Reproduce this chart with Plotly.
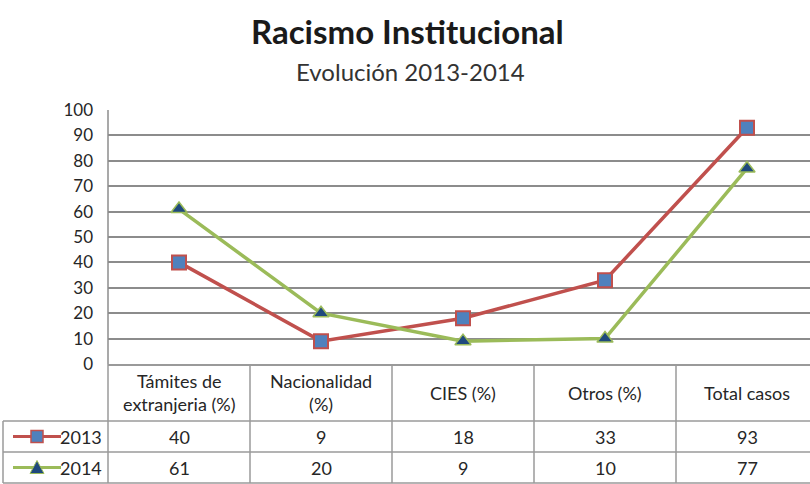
# Racismo Institucional - evolución 2013-2014
# Excel-style line chart with a data table under the x axis.

import plotly.graph_objects as go

# ---- Data ----
categories = ["Támites de<br>extranjeria (%)", "Nacionalidad<br>(%)", "CIES (%)",
              "Otros (%)", "Total casos"]
series_names = ["2013", "2014"]
values_2013 = [40, 9, 18, 33, 93]
values_2014 = [61, 20, 9, 10, 77]
y_ticks = [0, 10, 20, 30, 40, 50, 60, 70, 80, 90, 100]

# ---- Style ----
W, H = 810, 484
RED = "#C0504D"
GREEN = "#9BBB59"
BLUE = "#4F81BD"
NAVY = "#1F497D"
GRID = "#8c8c8c"
TABLE_LINE = "#9a9a9a"
TEXT = "#262626"
FONT = "Lato, Open Sans, sans-serif"

# pixel layout of the plot area / table
PLOT_L, PLOT_T, PLOT_B = 108, 110, 364
COL_W = 142
ROW_LINES = [421, 452, 483]
LEG_L = 3


def px(x):
    return x / W


def py(y):
    return 1 - y / H


def label(x, y, text, size, color=TEXT, xanchor="center"):
    return dict(x=px(x), y=py(y), xref="paper", yref="paper", text=text,
                xanchor=xanchor, yanchor="middle", showarrow=False,
                font=dict(size=size, color=color))


fig = go.Figure()

fig.add_trace(go.Scatter(
    x=list(range(len(categories))), y=values_2013, mode="lines+markers",
    name=series_names[0],
    line=dict(color=RED, width=3.5),
    marker=dict(symbol="square", size=14, color=BLUE, line=dict(color=RED, width=2)),
))
fig.add_trace(go.Scatter(
    x=list(range(len(categories))), y=values_2014, mode="lines+markers",
    name=series_names[1],
    line=dict(color=GREEN, width=3.5),
    marker=dict(symbol="triangle-up", size=14, color=NAVY, line=dict(color=GREEN, width=1.5)),
))

shapes = []
annotations = []

# table grid
for y in ROW_LINES:
    shapes.append(dict(type="line", xref="paper", yref="paper",
                       x0=px(LEG_L), x1=1, y0=py(y), y1=py(y),
                       line=dict(color=TABLE_LINE, width=1.5)))
shapes.append(dict(type="line", xref="paper", yref="paper",
                   x0=px(LEG_L), x1=px(LEG_L), y0=py(ROW_LINES[0]), y1=py(ROW_LINES[-1]),
                   line=dict(color=TABLE_LINE, width=1.5)))
for i in range(len(categories)):
    x = PLOT_L + COL_W * i
    shapes.append(dict(type="line", xref="paper", yref="paper",
                       x0=px(x), x1=px(x), y0=py(PLOT_B), y1=py(ROW_LINES[-1]),
                       line=dict(color=TABLE_LINE, width=1.5)))

# table header and values
for i, cat in enumerate(categories):
    cx = PLOT_L + COL_W * (i + 0.5)
    annotations.append(label(cx, (PLOT_B + ROW_LINES[0]) / 2, cat, 18))
    for r, vals in enumerate([values_2013, values_2014]):
        annotations.append(label(cx, (ROW_LINES[r] + ROW_LINES[r + 1]) / 2, str(vals[i]), 18))

# legend keys inside the table
for r, (name, lc, mc) in enumerate([(series_names[0], RED, BLUE), (series_names[1], GREEN, NAVY)]):
    cy = (ROW_LINES[r] + ROW_LINES[r + 1]) / 2
    shapes.append(dict(type="line", xref="paper", yref="paper",
                       x0=px(13), x1=px(61), y0=py(cy), y1=py(cy),
                       line=dict(color=lc, width=3)))
    if r == 0:
        shapes.append(dict(type="rect", xref="paper", yref="paper",
                           x0=px(31), x1=px(43), y0=py(cy - 6), y1=py(cy + 6),
                           fillcolor=mc, line=dict(color=lc, width=1.5)))
    else:
        path = "M {} {} L {} {} L {} {} Z".format(
            px(30), py(cy + 6), px(44), py(cy + 6), px(37), py(cy - 7))
        shapes.append(dict(type="path", xref="paper", yref="paper", path=path,
                           fillcolor=mc, line=dict(color=lc, width=1)))
    annotations.append(label(104, cy, name, 18, xanchor="right"))

# titles
annotations.append(label(408, 31, "<b>Racismo Institucional</b>", 33, "#1a1a1a"))
annotations.append(label(410, 72, "Evolución 2013-2014", 24, "#333333"))

# plot area left border
shapes.append(dict(type="line", xref="paper", yref="paper",
                   x0=px(PLOT_L), x1=px(PLOT_L), y0=py(PLOT_T), y1=py(PLOT_B),
                   line=dict(color=GRID, width=1.5)))

fig.update_layout(
    width=W, height=H,
    margin=dict(l=0, r=0, t=0, b=0, autoexpand=False),
    paper_bgcolor="white", plot_bgcolor="white",
    font=dict(family=FONT, color=TEXT),
    xaxis=dict(domain=[px(PLOT_L), 1], range=[-0.5, -0.5 + (W - PLOT_L) / COL_W],
               showgrid=False, zeroline=False, showticklabels=False,
               showline=True, linecolor=TABLE_LINE, linewidth=1.5, automargin=False),
    yaxis=dict(domain=[py(PLOT_B), py(PLOT_T)], range=[0, 100],
               tickvals=y_ticks, ticks="", tickfont=dict(size=17, color=TEXT),
               showgrid=True, gridcolor=GRID, gridwidth=1.5, zeroline=False,
               ticklabelstandoff=14, automargin=False),
    shapes=shapes,
    annotations=annotations,
    showlegend=False,
)

fig.write_html("out.html", config={"displayModeBar": False},
               post_script="document.body.style.margin='0';")
